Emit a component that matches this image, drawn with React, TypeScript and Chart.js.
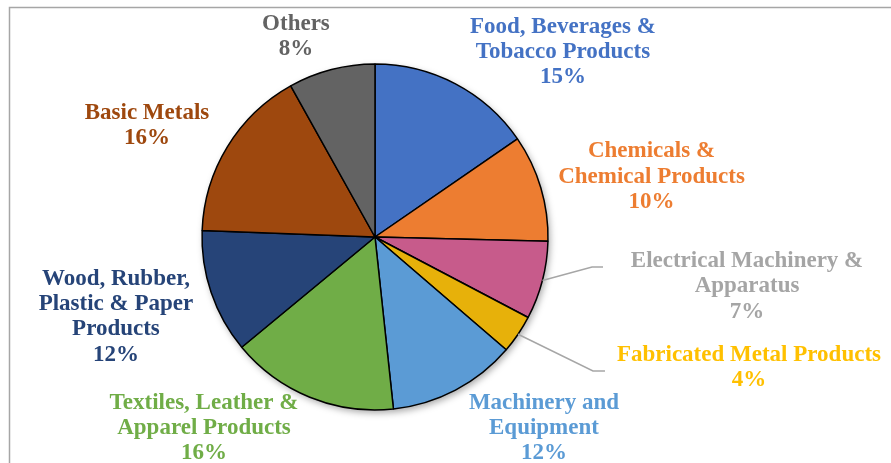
import React, { useEffect, useRef } from "react";
import { Chart, registerables } from "chart.js";

Chart.register(...registerables);

const categories: string[][] = [
  ["Food, Beverages &", "Tobacco Products"],
  ["Chemicals &", "Chemical Products"],
  ["Electrical Machinery &", "Apparatus"],
  ["Fabricated Metal Products"],
  ["Machinery and", "Equipment"],
  ["Textiles, Leather &", "Apparel Products"],
  ["Wood, Rubber,", "Plastic & Paper", "Products"],
  ["Basic Metals"],
  ["Others"],
];
const shares: number[] = [15.4, 10.0, 7.3, 3.6, 12.0, 15.7, 11.6, 16.3, 8.1];
const sliceColors: string[] = [
  "#4472C4", "#ED7D31", "#C75B8B", "#E7B10A", "#5B9BD5",
  "#70AD47", "#264478", "#9E480E", "#636363",
];
const labelColors: string[] = [
  "#4472C4", "#ED7D31", "#A5A5A5", "#FFC000", "#5B9BD5",
  "#70AD47", "#264478", "#9E480E", "#636363",
];

// label block offsets (center) from the slice's outer mid point
const labelOffsets = [
  { dx: 107.5, dy: -31.8 },
  { dx: 110.7, dy: -10.9 },
  { dx: 204.6, dy: 6.0, leader: [[49.6, -13.5], [60.6, -13.5]] },
  { dx: 230.9, dy: 33.1, leader: [[74.9, 36.8], [86.9, 36.8]] },
  { dx: 88.5, dy: 38.0 },
  { dx: -105.8, dy: 30.9 },
  { dx: -95.2, dy: 24.3 },
  { dx: -80.5, dy: -20.8 },
  { dx: -35.5, dy: -33.3 },
];

const framePlugin = {
  id: "frame",
  beforeDraw(chart: any) {
    const ctx = chart.ctx;
    ctx.save();
    ctx.strokeStyle = "#A6A6A6";
    ctx.lineWidth = 1.5;
    ctx.beginPath();
    ctx.moveTo(9.5, 463);
    ctx.lineTo(9.5, 7.5);
    ctx.lineTo(891, 7.5);
    ctx.stroke();
    ctx.restore();
  },
  beforeDatasetsDraw(chart: any) {
    const meta = chart.getDatasetMeta(0);
    const a = meta.data[0] as any;
    if (!a) return;
    const ctx = chart.ctx;
    ctx.save();
    ctx.shadowColor = "rgba(0,0,0,0.35)";
    ctx.shadowBlur = 7;
    ctx.shadowOffsetX = 2;
    ctx.shadowOffsetY = 3;
    ctx.fillStyle = "#ffffff";
    ctx.beginPath();
    ctx.arc(a.x, a.y, a.outerRadius, 0, Math.PI * 2);
    ctx.fill();
    ctx.restore();
  },
};

const labelPlugin = {
  id: "sliceLabels",
  afterDatasetsDraw(chart: any) {
    const meta = chart.getDatasetMeta(0);
    const ctx = chart.ctx;
    ctx.save();
    ctx.font = "bold 23px 'Liberation Serif', 'Times New Roman', serif";
    ctx.textAlign = "center";
    ctx.textBaseline = "middle";
    const lineH = 25.3;
    meta.data.forEach((el: any, i: number) => {
      const mid = (el.startAngle + el.endAngle) / 2;
      const ex = el.x + Math.cos(mid) * el.outerRadius;
      const ey = el.y + Math.sin(mid) * el.outerRadius;
      const off = labelOffsets[i];
      if (off.leader) {
        ctx.strokeStyle = "#A6A6A6";
        ctx.lineWidth = 1.5;
        ctx.beginPath();
        ctx.moveTo(ex, ey);
        off.leader.forEach((p: number[]) => ctx.lineTo(ex + p[0], ey + p[1]));
        ctx.stroke();
      }
      const lines = [...categories[i], Math.round(shares[i]) + "%"];
      const cx = ex + off.dx;
      const cy = ey + off.dy;
      const top = cy - ((lines.length - 1) * lineH) / 2;
      ctx.fillStyle = labelColors[i];
      lines.forEach((t, j) => ctx.fillText(t, cx, top + j * lineH));
    });
    ctx.restore();
  },
};

export default function App() {
  const ref = useRef<HTMLCanvasElement | null>(null);
  useEffect(() => {
    if (!ref.current) return;
    const chart = new Chart(ref.current, {
      type: "pie",
      data: {
        labels: categories.map((c) => c.join(" ")),
        datasets: [
          {
            data: shares,
            backgroundColor: sliceColors,
            borderColor: "#000000",
            borderWidth: 1.5,
            hoverOffset: 0,
            radius: 173,
          } as any,
        ],
      },
      options: {
        animation: false,
        responsive: false,
        maintainAspectRatio: false,
        layout: { padding: { left: 0, right: 141, top: 11, bottom: 0 } },
        plugins: {
          legend: { display: false },
          tooltip: { enabled: false },
        },
      },
      plugins: [framePlugin, labelPlugin],
    });
    return () => chart.destroy();
  }, []);
  return (
    <div style={{ position: "fixed", left: 0, top: 0, width: 891, height: 463, background: "#fff" }}>
      <canvas ref={ref} width={891} height={463} style={{ width: 891, height: 463, display: "block" }} />
    </div>
  );
}
